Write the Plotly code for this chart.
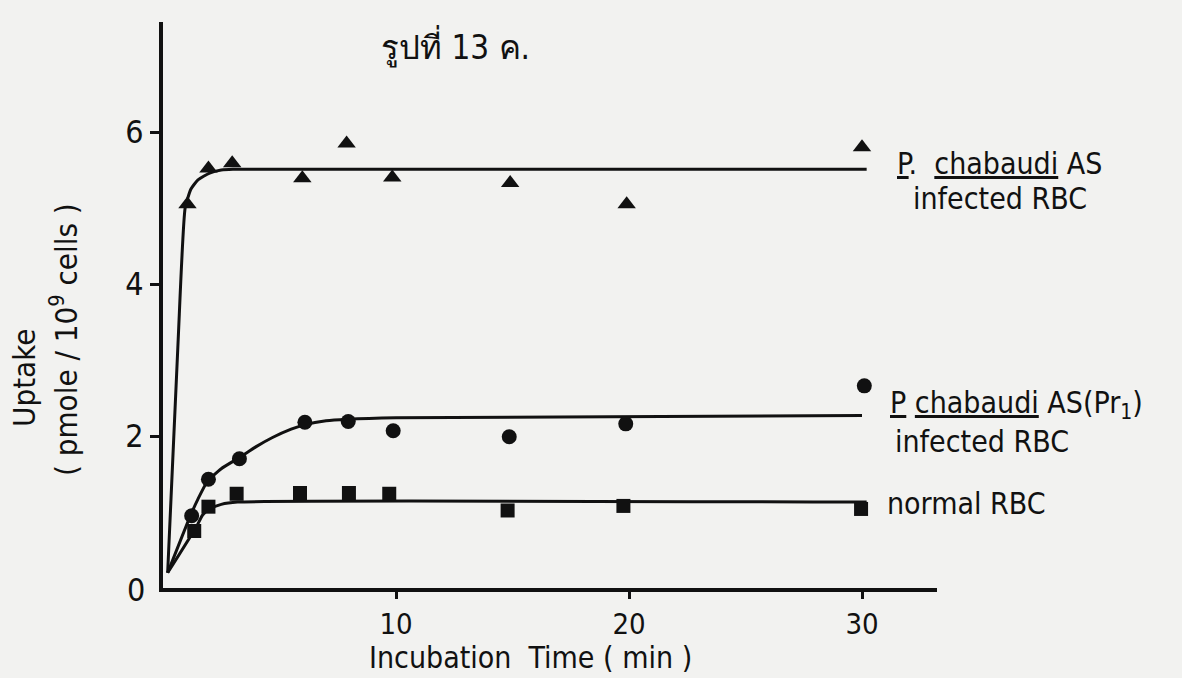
import plotly.graph_objects as go

# ---- data ----
tri_x = [1.05, 1.95, 2.97, 5.98, 7.88, 9.84, 14.9, 19.9, 30.0]
tri_y = [5.05, 5.52, 5.59, 5.39, 5.85, 5.40, 5.33, 5.05, 5.80]

circ_x = [1.23, 1.95, 3.28, 6.09, 7.95, 9.88, 14.86, 19.86, 30.1]
circ_y = [0.95, 1.43, 1.70, 2.18, 2.19, 2.07, 1.99, 2.16, 2.66]

sq_x = [1.34, 1.95, 3.16, 5.88, 7.98, 9.71, 14.79, 19.76, 29.96]
sq_y = [0.75, 1.07, 1.24, 1.25, 1.25, 1.24, 1.02, 1.08, 1.04]

# hand-drawn fitted curves
tri_fit_x = [0.2, 0.65, 0.95, 1.2, 1.5, 2.0, 2.5, 3.0, 30.2]
tri_fit_y = [0.2, 3.26, 5.0, 5.25, 5.37, 5.46, 5.50, 5.51, 5.51]

circ_fit_x = [0.2, 1.16, 1.5, 1.9, 2.5, 3.3, 4.0, 4.7, 5.5, 6.1, 7.0, 7.9, 10.0, 30.0]
circ_fit_y = [0.2, 0.94, 1.17, 1.40, 1.57, 1.72, 1.86, 1.98, 2.09, 2.15, 2.20, 2.22, 2.24, 2.27]

sq_fit_x = [0.2, 1.44, 1.7, 2.0, 2.5, 3.2, 30.2]
sq_fit_y = [0.2, 0.81, 0.96, 1.04, 1.10, 1.13, 1.13]

x_ticks = [10, 20, 30]
y_ticks = [2, 4, 6]

title_text = "รูปที่ 13 ค."
x_title = "Incubation  Time ( min )"
y_title1 = "Uptake"
y_title2 = "( pmole / 10<sup>9</sup> cells )"
label_tri = ["<u>P</u>.  <u>chabaudi</u> AS", "infected RBC"]
label_circ = ["<u>P</u> <u>chabaudi</u> AS(Pr<sub>1</sub>)", "infected RBC"]
label_sq = "normal RBC"

# ---- layout geometry ----
W, H = 1182, 678
L, R, T, B = 163, 245, 22, 90
PW, PH = W - L - R, H - T - B
X_MAX = PW / 23.3
Y_MAX = PH / 76.0

INK = "#111111"
FONT = "DejaVu Sans Condensed, Liberation Sans Narrow, DejaVu Sans"


def px(xp):
    return (xp - L) / PW


def py(yp):
    return (H - B - yp) / PH


fig = go.Figure()

for fx, fy in [(tri_fit_x, tri_fit_y), (circ_fit_x, circ_fit_y), (sq_fit_x, sq_fit_y)]:
    fig.add_trace(go.Scatter(x=fx, y=fy, mode="lines", line=dict(color=INK, width=3, shape="spline", smoothing=0.5),
                             showlegend=False, hoverinfo="skip"))

fig.add_trace(go.Scatter(x=tri_x, y=tri_y, mode="markers",
                         marker=dict(symbol="triangle-up", size=16, color=INK), showlegend=False))
fig.add_trace(go.Scatter(x=circ_x, y=circ_y, mode="markers",
                         marker=dict(symbol="circle", size=15, color=INK), showlegend=False))
fig.add_trace(go.Scatter(x=sq_x, y=sq_y, mode="markers",
                         marker=dict(symbol="square", size=14, color=INK), showlegend=False))

ann = []


def add(text, xp, yp, size=30, xanchor="left", angle=0, yanchor="middle"):
    ann.append(dict(text=text, x=px(xp), y=py(yp), xref="paper", yref="paper", showarrow=False,
                    xanchor=xanchor, yanchor=yanchor, textangle=angle,
                    font=dict(family=FONT, size=size, color=INK)))


add(title_text, 455, 47, size=33, xanchor="center")
add(x_title, 530, 677, size=30, xanchor="center", yanchor="bottom")
add(y_title1, 24, 378, size=31, xanchor="center", angle=-90)
add(y_title2, 64, 340, size=31, xanchor="center", angle=-90)
add("0", 136, 590, size=32, xanchor="center")
add(label_tri[0], 895, 163)
add(label_tri[1], 911, 198)
add(label_circ[0], 888, 405)
add(label_circ[1], 893, 442)
add(label_sq, 885, 503)

fig.update_layout(
    width=W, height=H,
    margin=dict(l=L, r=R, t=T, b=B),
    paper_bgcolor="#f2f2f0", plot_bgcolor="#f2f2f0",
    annotations=ann,
    font=dict(family=FONT, color=INK),
)
fig.update_xaxes(range=[0, X_MAX], tickvals=x_ticks, ticks="outside", ticklen=7, tickwidth=3,
                 tickcolor=INK, showline=True, linecolor=INK, linewidth=4, showgrid=False, zeroline=False,
                 tickfont=dict(family=FONT, size=29, color=INK), ticklabelstandoff=0)
fig.update_yaxes(range=[0, Y_MAX], tickvals=y_ticks, ticks="outside", ticklen=9, tickwidth=3,
                 tickcolor=INK, showline=True, linecolor=INK, linewidth=4, showgrid=False, zeroline=False,
                 tickfont=dict(family=FONT, size=32, color=INK), ticklabelstandoff=0)

fig.write_html("out.html")
